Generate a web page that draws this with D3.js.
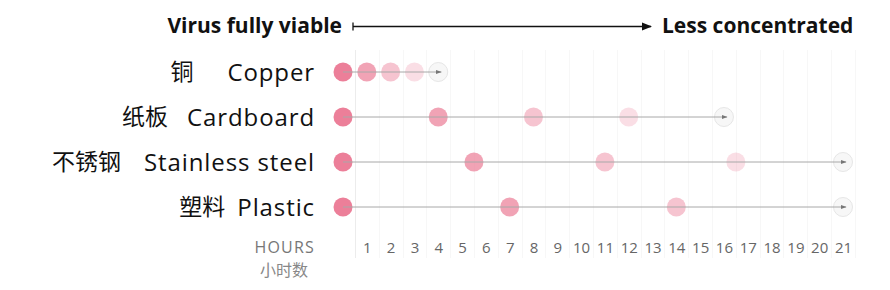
<!DOCTYPE html>
<html><head><meta charset="utf-8">
<script src="https://cdn.jsdelivr.net/npm/d3@7"></script>
<style>body{margin:0;background:#fff}svg{display:block}</style>
</head><body>
<svg id="c" width="890" height="290"></svg>
<script>
const materialsEn = ["Copper", "Cardboard", "Stainless steel", "Plastic"];
const materialsZh = ["铜", "纸板", "不锈钢", "塑料"];
// hours at which concentration halves (viable dots), then end point (virus undetectable)
const copperHours = [0, 1, 2, 3];
const cardboardHours = [0, 4, 8, 12];
const steelHours = [0, 5.5, 11, 16.5];
const plasticHours = [0, 7, 14];
const endHours = [4, 16, 21, 21];
const hourTicks = [1,2,3,4,5,6,7,8,9,10,11,12,13,14,15,16,17,18,19,20,21];
const stepOpacity = [1, 0.72, 0.46, 0.26];
const headerLeft = "Virus fully viable";
const headerRight = "Less concentrated";
const axisLabelEn = "HOURS";
const axisLabelZh = "小时数";

const rowsHours = [copperHours, cardboardHours, steelHours, plasticHours];

const svg = d3.select("#c");
const x = d3.scaleLinear().domain([0, 21]).range([343, 843]);
const y = d3.scalePoint().domain(materialsEn).range([72, 207]);

const defs = svg.append("defs");
defs.append("marker").attr("id","ah").attr("viewBox","0 0 10 10").attr("refX",9).attr("refY",5)
  .attr("markerWidth",6).attr("markerHeight",6).attr("orient","auto")
  .append("path").attr("d","M0,1.5 L10,5 L0,8.5 Z").attr("fill","#777");
defs.append("marker").attr("id","ahBig").attr("viewBox","0 0 10 10").attr("refX",9).attr("refY",5)
  .attr("markerWidth",10).attr("markerHeight",10).attr("markerUnits","userSpaceOnUse").attr("orient","auto")
  .append("path").attr("d","M0,1 L10,5 L0,9 Z").attr("fill","#111");

// grid lines at half-hours
const gridHours = d3.range(0.5, 21.6, 1);
svg.append("g").selectAll("line").data(gridHours).join("line")
  .attr("x1", d => Math.round(x(d)) + 0.5).attr("x2", d => Math.round(x(d)) + 0.5)
  .attr("y1", 50).attr("y2", 258)
  .attr("stroke", (d,i) => i === 0 ? "#ececec" : "#f7f7f7").attr("stroke-width", 1);

// header
const fontEn = "'Open Sans', 'Noto Sans', sans-serif";
svg.append("text").attr("x", 342).attr("y", 33).attr("text-anchor","end")
  .attr("font-family", fontEn).attr("font-weight", 700).attr("font-size", 21).attr("fill","#111")
  .text(headerLeft);
svg.append("line").attr("x1", 353).attr("x2", 651).attr("y1", 26.5).attr("y2", 26.5)
  .attr("stroke","#111").attr("stroke-width",1.3).attr("marker-end","url(#ahBig)");
svg.append("line").attr("x1", 353).attr("x2", 353).attr("y1", 22.5).attr("y2", 30.5)
  .attr("stroke","#111").attr("stroke-width",1.3);
svg.append("text").attr("x", 662).attr("y", 33)
  .attr("font-family", fontEn).attr("font-weight", 700).attr("font-size", 21).attr("fill","#111")
  .text(headerRight);

// row labels (layout: gap between Chinese and English label per row)
const zhGaps = [34, 19, 23, 12];
const labels = svg.append("g");
materialsEn.forEach((m, i) => {
  const t = labels.append("text").attr("x", 315).attr("y", y(m) + 8.5).attr("text-anchor","end")
    .attr("font-family", fontEn).attr("font-size", 24).attr("letter-spacing", 0.9).attr("fill","#111")
    .text(m);
  const w = t.node().getComputedTextLength();
  labels.append("text").attr("x", 315 - w - zhGaps[i]).attr("y", y(m) + 8).attr("text-anchor","end")
    .attr("font-family", "'Noto Sans CJK SC', sans-serif").attr("font-size", 23).attr("fill","#111")
    .text(materialsZh[i]);
});

// rows
materialsEn.forEach((m, i) => {
  const g = svg.append("g");
  const cy = y(m);
  const endX = x(endHours[i]);
  g.append("circle").attr("cx", endX).attr("cy", cy).attr("r", 9.5)
    .attr("fill","#f7f7f7").attr("stroke","#e6e6e6").attr("stroke-width",1);
  g.selectAll("circle.d").data(rowsHours[i]).join("circle").attr("class","d")
    .attr("cx", d => x(d)).attr("cy", cy).attr("r", 9.5)
    .attr("fill", "#ec7f99").attr("fill-opacity", (d, k) => stepOpacity[k]);
  g.append("line").attr("x1", x(0)).attr("x2", endX + 3).attr("y1", cy).attr("y2", cy)
    .attr("stroke","#a8a8a8").attr("stroke-width",1).attr("marker-end","url(#ah)");
});

// axis ticks
const axisG = svg.append("g").attr("transform","translate(0,253)");
const axis = d3.axisBottom(x).tickValues(hourTicks).tickSize(0).tickPadding(0).tickFormat(d3.format("d"));
axisG.call(axis);
axisG.select(".domain").remove();
axisG.selectAll("text").attr("dy", 0).attr("y", 0).attr("font-family", fontEn).attr("font-size", 15)
  .attr("fill","#666");

svg.append("text").attr("x", 315).attr("y", 253).attr("text-anchor","end")
  .attr("font-family", fontEn).attr("font-size", 16).attr("letter-spacing", 1.2).attr("fill","#777")
  .text(axisLabelEn);
svg.append("text").attr("x", 284).attr("y", 276).attr("text-anchor","middle")
  .attr("font-family", "'Noto Sans CJK SC', sans-serif").attr("font-size", 16).attr("fill","#888")
  .text(axisLabelZh);
</script>
</body></html>
